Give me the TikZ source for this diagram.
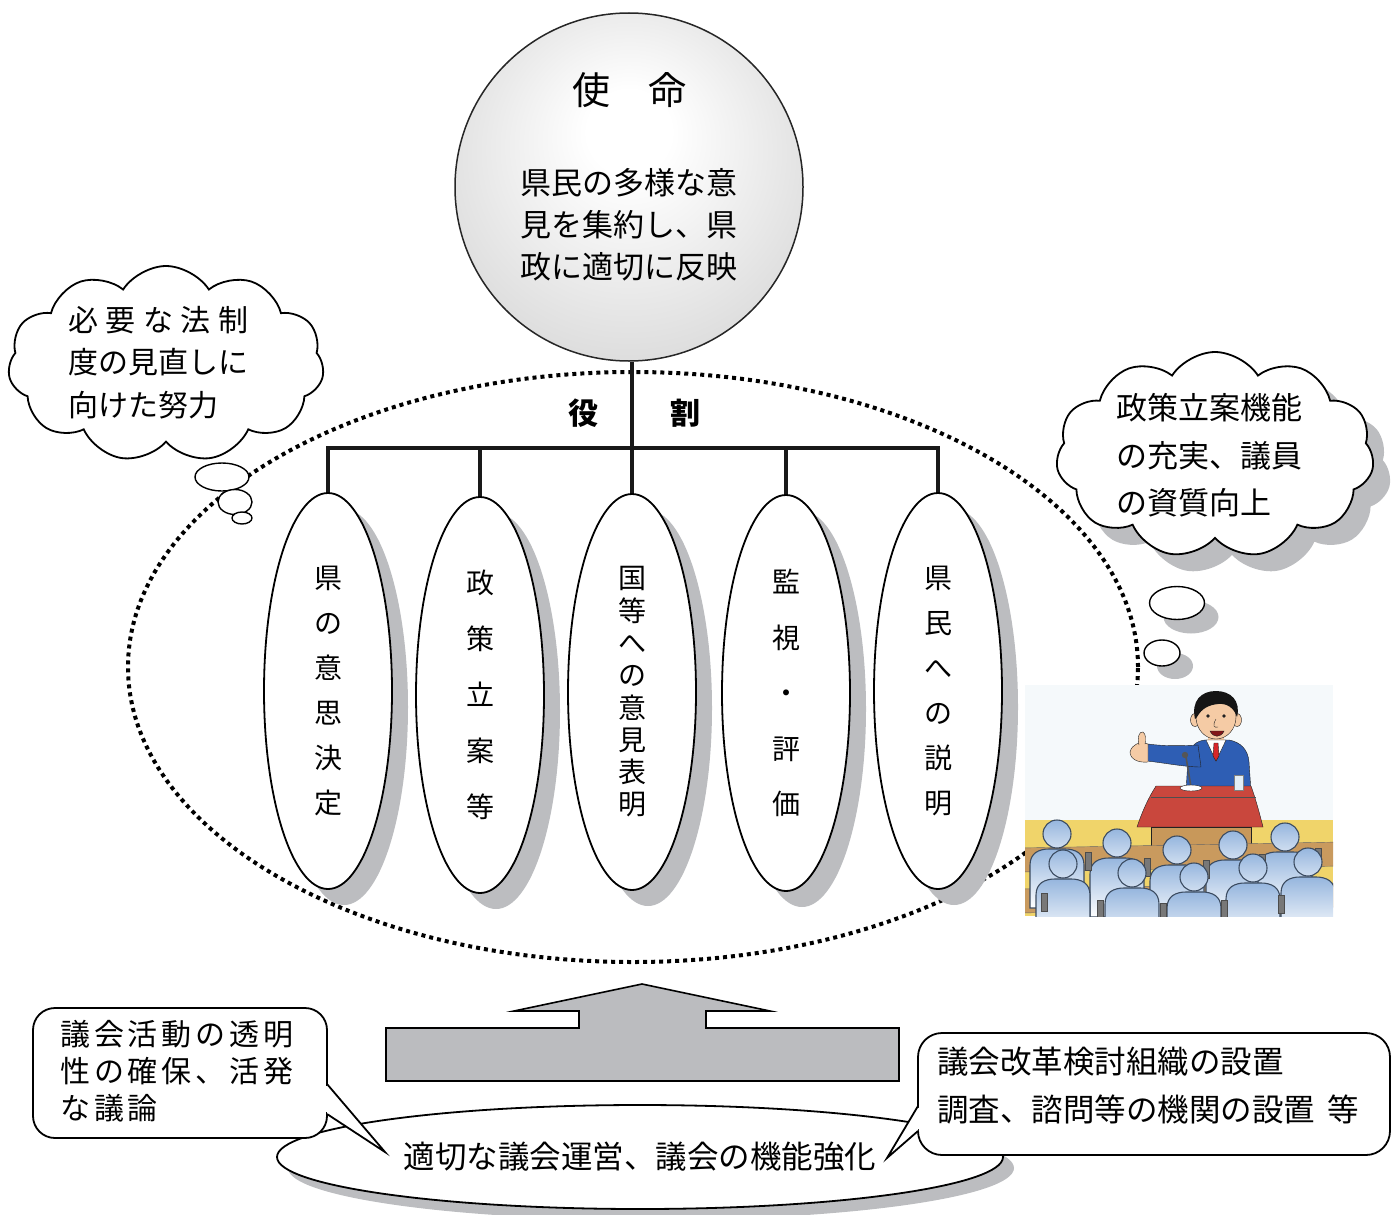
\documentclass[tikz,border=0pt]{standalone}
\usepackage{fontspec}
\newfontfamily\jp{Noto Sans CJK JP}
\newfontfamily\jpls[LetterSpace=13]{Noto Sans CJK JP}
\usetikzlibrary{shapes.geometric,shapes.symbols,shadows}

\definecolor{shadowgray}{RGB}{188,189,192}
\definecolor{arrowgray}{RGB}{187,188,191}
\definecolor{wallcol}{RGB}{245,249,251}
\definecolor{floorcol}{RGB}{240,212,106}
\definecolor{deskcol}{RGB}{201,154,94}
\definecolor{suit}{RGB}{46,94,180}
\definecolor{skin}{RGB}{245,203,165}
\definecolor{hair}{RGB}{21,21,21}
\definecolor{tiered}{RGB}{216,38,42}
\definecolor{clothred}{RGB}{201,71,61}
\definecolor{podbrown}{RGB}{200,152,90}
\definecolor{micgray}{RGB}{85,85,85}
\definecolor{glasscol}{RGB}{226,238,246}
\definecolor{ink}{RGB}{34,34,34}
\definecolor{audtop}{RGB}{150,182,222}
\definecolor{audline}{RGB}{59,75,96}
\definecolor{postgray}{RGB}{120,120,120}

% sphere shading for the mission node
\pgfdeclareradialshading{missionball}{\pgfpoint{0bp}{9bp}}{%
  color(0bp)=(white); color(6bp)=(white); color(44bp)=(black!22); color(50bp)=(black!28)}

\tikzset{
  person/.pic={
    \draw[audline, line width=1.1, top color=audtop, bottom color=white]
      (-27,74) -- (-27,31) .. controls (-27,19) and (-18,15) .. (-8,15) -- (8,15)
      .. controls (18,15) and (27,19) .. (27,31) -- (27,74) -- cycle;
    \draw[audline, line width=1.1, top color=audtop, bottom color=audtop!45!white]
      (0,0) circle[radius=14];
  },
  post/.pic={
    \draw[black!70, fill=postgray, line width=0.8] (-3,0) rectangle (3,18);
  }
}

\begin{document}
\begin{tikzpicture}[x=1pt,y=-1pt,
  every node/.style={font=\jp},
  outline/.style={draw=black, line width=1.8},
  thin outline/.style={draw=black, line width=1.4},
  link/.style={draw=black!90, line width=3.6},
  dotring/.style={draw=black, line width=4, dash pattern=on 4pt off 4pt},
  grayshadow/.style={drop shadow={shadow xshift=#1pt, shadow yshift=-#1pt, fill=shadowgray, opacity=1}},
  rolebox/.style={ellipse, outline, fill=white, minimum width=128, minimum height=396,
    inner sep=0, align=center, grayshadow=16},
  bubble/.style={ellipse, thin outline, fill=white, inner sep=0},
  thought/.style={cloud, cloud puffs=11, cloud puff arc=115, cloud ignores aspect,
    outline, fill=white, inner sep=0},
  note/.style={rectangle, outline, fill=white, inner sep=0},
]
\useasboundingbox (0,0) rectangle (1397,1215);

% ---------- dotted ring of roles ----------
\node[ellipse, dotring, minimum width=1010, minimum height=590, inner sep=0] (ring) at (633,667) {};

% ---------- mission ----------
\node[circle, shade, shading=missionball, draw=black!85, line width=1.5,
      minimum size=348, inner sep=0] (mission) at (629,187) {};
\node[font=\jp\fontsize{38}{40}\selectfont] (mtitle) at (629,90) {使　命};
\node[font=\jp\fontsize{31}{42}\selectfont, align=center] (mbody) at (629,225)
  {県民の多様な意\\見を集約し、県\\政に適切に反映};

% ---------- thought clouds ----------
\node[thought, minimum width=316, minimum height=196] (lcloud) at (166,364) {};
\node[font=\jp\fontsize{30}{42.5}\selectfont, align=left, anchor=west, inner sep=0] (ltext) at (68,362.5)
  {\hbox to 180pt{必\hfill 要\hfill な\hfill 法\hfill 制}\\度の見直しに\\向けた努力};
\node[bubble, minimum width=54, minimum height=28] (lb1) at (222,477) {};
\node[bubble, minimum width=34, minimum height=25] (lb2) at (235,502) {};
\node[bubble, minimum width=20, minimum height=12] (lb3) at (242,518) {};

\node[thought, minimum width=318, minimum height=206, grayshadow=17] (rcloud) at (1215,455) {};
\node[font=\jp\fontsize{31}{47.5}\selectfont, align=left, anchor=west, inner sep=0] (rtext) at (1116,455.5)
  {政策立案機能\\\hbox to 186pt{の\hfill 充\hfill 実、\hfill 議\hfill 員}\\の資質向上};
\node[bubble, minimum width=55, minimum height=33, grayshadow=14] (rb1) at (1177,603) {};
\node[bubble, minimum width=36, minimum height=26, grayshadow=13] (rb2) at (1162,653) {};

% ---------- roles ----------
\node[rolebox, font=\jp\fontsize{28}{45}\selectfont] (r1) at (328,691) {県\\の\\意\\思\\決\\定};
\node[rolebox, font=\jp\fontsize{28}{56}\selectfont] (r2) at (480,695) {政\\策\\立\\案\\等};
\node[rolebox, font=\jp\fontsize{28}{32.3}\selectfont] (r3) at (632,692) {国\\等\\へ\\の\\意\\見\\表\\明};
\node[rolebox, font=\jp\fontsize{28}{55.5}\selectfont] (r4) at (786,693) {監\\視\\・\\評\\価};
\node[rolebox, font=\jp\fontsize{28}{45}\selectfont] (r5) at (938,691) {県\\民\\へ\\の\\説\\明};

\node[font=\jp\bfseries\fontsize{30}{32}\selectfont] (rolelabel) at (634,413) {役\hspace{72pt}割};

\coordinate (bar) at (633,448);
\draw[link, line cap=rect] (bar -| r1.north) -- (bar -| r5.north);
\draw[link] (mission.south -| r3.north) -- (r3.north);
\foreach \r in {r1,r2,r4,r5}
  \draw[link] (bar -| \r.north) -- (\r.north);

% ---------- speaker at the rostrum ----------
\begin{scope}
  \clip (1025,685) rectangle (1333,916);
  \fill[wallcol] (1025,685) rectangle (1333,916);
  \fill[floorcol] (1025,820) rectangle (1333,916);
  % speaker
  \draw[ink, fill=suit] (1186,792) -- (1188,758) .. controls (1190,746) and (1196,741) .. (1205,740)
    -- (1229,740) .. controls (1240,742) and (1248,749) .. (1249,762) -- (1251,792) -- cycle;
  \draw[ink, fill=suit] (1198,745) .. controls (1180,746) and (1162,746) .. (1148,744)
    -- (1147,761) .. controls (1165,763) and (1185,767) .. (1201,767) -- cycle;
  \draw[ink, fill=skin] (1148,744) .. controls (1140,741) and (1132,744) .. (1130,752)
    .. controls (1130,759) and (1138,763) .. (1148,762) -- cycle;
  \draw[ink, fill=skin] (1139,745) .. controls (1137,738) and (1139,731) .. (1143,732)
    .. controls (1146,734) and (1146,740) .. (1145,744);
  \fill[skin] (1208,731) rectangle (1224,742);
  \draw[ink, fill=white] (1206,740) -- (1226,740) -- (1216,761) -- cycle;
  \draw[ink, fill=tiered] (1214,743) -- (1218,743) -- (1219,756) -- (1216,761) -- (1213,756) -- cycle;
  \draw[ink, fill=skin] (1195,720) ellipse [x radius=4.5, y radius=6.5];
  \draw[ink, fill=skin] (1237,720) ellipse [x radius=4.5, y radius=6.5];
  \draw[ink, fill=skin] (1216,717) ellipse [x radius=20, y radius=22];
  \fill[hair] (1195,719) .. controls (1191,701) and (1201,691) .. (1216,691)
    .. controls (1231,691) and (1241,701) .. (1237,717)
    .. controls (1234,708) and (1227,703) .. (1218,704)
    .. controls (1209,705) and (1202,708) .. (1197,717) -- cycle;
  \fill[ink] (1208,716) circle[radius=1.8];
  \fill[ink] (1224,716) circle[radius=1.8];
  \draw[ink] (1216,719) .. controls (1212,726) and (1214,728) .. (1218,727);
  \draw[ink, fill=tiered!60!black] (1210,731) .. controls (1213,738) and (1221,738) .. (1224,731) -- cycle;
  % microphone
  \draw[micgray, line width=1.6] (1186,757) -- (1191,787);
  \fill[micgray] (1185,755) circle[radius=3.2];
  % rostrum
  \draw[ink, fill=clothred] (1156,786) -- (1251,786) .. controls (1256,800) and (1260,815) .. (1263,827)
    -- (1137,827) .. controls (1141,815) and (1147,800) .. (1156,786) -- cycle;
  \draw[ink!80] (1151,797) -- (1256,797);
  \draw[ink, fill=white] (1191,788) ellipse [x radius=11, y radius=3];
  \draw[black!50, fill=glasscol] (1234,775) rectangle (1243,790);
  \draw[ink, fill=podbrown] (1151,827) rectangle (1251,851);
  % audience desks
  \draw[black!60, fill=deskcol] (1020,848) -- (1340,842) -- (1340,866) -- (1020,872) -- cycle;
  \draw[black!60, fill=deskcol] (1020,889) -- (1340,883) -- (1340,907) -- (1020,913) -- cycle;
  % back row
  \foreach \x/\y in {1057/834, 1117/843, 1177/850, 1233/845, 1285/837}
    \pic at (\x,\y) {person};
  \foreach \x/\y in {1088/852, 1147/858, 1206/860, 1262/854, 1318/848}
    \pic at (\x,\y) {post};
  % front row
  \foreach \x/\y in {1063/864, 1132/873, 1194/877, 1253/868, 1308/862}
    \pic at (\x,\y) {person};
  \foreach \x/\y in {1044/893, 1100/900, 1163/903, 1224/900, 1281/895}
    \pic at (\x,\y) {post};
\end{scope}

% ---------- upward arrow ----------
\draw[draw=black, line width=1.6, fill=arrowgray, line join=miter]
  (642,984) -- (770,1011) -- (706,1011) -- (706,1028) -- (899,1028) -- (899,1081)
  -- (386,1081) -- (386,1028) -- (579,1028) -- (579,1011) -- (514,1011) -- cycle;

% ---------- council base ----------
\node[ellipse, outline, fill=white, minimum width=726, minimum height=104, inner sep=0,
      grayshadow=11, font=\jp\fontsize{31.5}{33}\selectfont] (base) at (640,1157)
  {適切な議会運営、議会の機能強化};

% ---------- callouts ----------
\node[note, rounded corners=22, minimum width=294, minimum height=130] (lbox) at (180,1073) {};
\coordinate (la1) at (327,1084);
\coordinate (la2) at (327,1114);
\coordinate (ltip) at (385,1152);
\fill[white] (la1) -- (ltip) -- (la2) -- cycle;
\fill[white] (323,1086) rectangle (329.5,1112);
\draw[outline] (la1) -- (ltip) -- (la2);
\node[font=\jpls\fontsize{30}{37}\selectfont, align=left, anchor=west, inner sep=0] (ltextb) at (60,1071.5)
  {議会活動の透明\\性の確保、活発\\な議論};

\node[note, rounded corners=24, minimum width=472, minimum height=122] (rbox) at (1154,1094) {};
\coordinate (ra1) at (918,1106);
\coordinate (ra2) at (918,1131);
\coordinate (rtip) at (887,1158);
\fill[white] (ra1) -- (rtip) -- (ra2) -- cycle;
\fill[white] (916.5,1108) rectangle (923,1129);
\draw[outline] (ra1) -- (rtip) -- (ra2);
\node[font=\jp\fontsize{31.5}{48}\selectfont, align=left, anchor=west, inner sep=0] (rtextb) at (937,1086)
  {議会改革検討組織の設置\\調査、諮問等の機関の設置\hspace{12pt}等};

\end{tikzpicture}
\end{document}
